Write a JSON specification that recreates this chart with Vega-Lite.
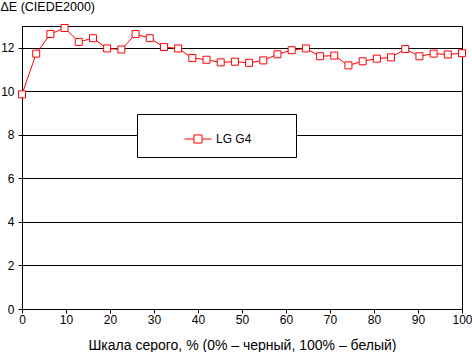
{
  "$schema": "https://vega.github.io/schema/vega-lite/v6.json",
  "width": 440,
  "height": 283,
  "autosize": {"type": "none"},
  "padding": {"left": 22, "top": 26, "right": 10, "bottom": 43},
  "background": "white",
  "config": {
    "font": "Liberation Sans",
    "view": {"stroke": "black", "strokeWidth": 1},
    "axis": {
      "labelFont": "Liberation Sans",
      "labelFontSize": 12,
      "labelColor": "black",
      "titleFont": "Liberation Sans",
      "titleFontSize": 12,
      "titleFontWeight": "normal",
      "titleColor": "black",
      "domainColor": "black",
      "tickColor": "black",
      "tickSize": 4,
      "gridColor": "black",
      "gridOpacity": 1
    },
    "legend": {
      "labelFont": "Liberation Sans",
      "labelFontSize": 12,
      "labelColor": "black"
    }
  },
  "data": {
    "values": [
      {"x": 0, "y": 9.86, "series": "LG G4"},
      {"x": 3.23, "y": 11.73, "series": "LG G4"},
      {"x": 6.45, "y": 12.63, "series": "LG G4"},
      {"x": 9.68, "y": 12.91, "series": "LG G4"},
      {"x": 12.9, "y": 12.27, "series": "LG G4"},
      {"x": 16.13, "y": 12.44, "series": "LG G4"},
      {"x": 19.35, "y": 11.97, "series": "LG G4"},
      {"x": 22.58, "y": 11.92, "series": "LG G4"},
      {"x": 25.81, "y": 12.63, "series": "LG G4"},
      {"x": 29.03, "y": 12.44, "series": "LG G4"},
      {"x": 32.26, "y": 12.03, "series": "LG G4"},
      {"x": 35.48, "y": 11.97, "series": "LG G4"},
      {"x": 38.71, "y": 11.53, "series": "LG G4"},
      {"x": 41.94, "y": 11.45, "series": "LG G4"},
      {"x": 45.16, "y": 11.33, "series": "LG G4"},
      {"x": 48.39, "y": 11.36, "series": "LG G4"},
      {"x": 51.61, "y": 11.31, "series": "LG G4"},
      {"x": 54.84, "y": 11.42, "series": "LG G4"},
      {"x": 58.06, "y": 11.7, "series": "LG G4"},
      {"x": 61.29, "y": 11.89, "series": "LG G4"},
      {"x": 64.52, "y": 11.97, "series": "LG G4"},
      {"x": 67.74, "y": 11.61, "series": "LG G4"},
      {"x": 70.97, "y": 11.64, "series": "LG G4"},
      {"x": 74.19, "y": 11.19, "series": "LG G4"},
      {"x": 77.42, "y": 11.38, "series": "LG G4"},
      {"x": 80.65, "y": 11.5, "series": "LG G4"},
      {"x": 83.87, "y": 11.56, "series": "LG G4"},
      {"x": 87.1, "y": 11.94, "series": "LG G4"},
      {"x": 90.32, "y": 11.61, "series": "LG G4"},
      {"x": 93.55, "y": 11.73, "series": "LG G4"},
      {"x": 96.77, "y": 11.69, "series": "LG G4"},
      {"x": 100, "y": 11.75, "series": "LG G4"}
    ]
  },
  "encoding": {
    "x": {
      "field": "x",
      "type": "quantitative",
      "scale": {"domain": [0, 100], "nice": false, "zero": false},
      "axis": {
        "values": [0, 10, 20, 30, 40, 50, 60, 70, 80, 90, 100],
        "grid": false,
        "labelFlush": false,
        "labelPadding": 1,
        "title": "Шкала серого, % (0% – черный, 100% – белый)",
        "titleFontSize": 14,
        "titleBaseline": "alphabetic",
        "titleY": 40
      }
    },
    "y": {
      "field": "y",
      "type": "quantitative",
      "scale": {"domain": [0, 13], "nice": false},
      "axis": {
        "values": [0, 2, 4, 6, 8, 10, 12],
        "grid": true,
        "labelPadding": 4,
        "title": "ΔE (CIEDE2000)",
        "titleFontSize": 12.5,
        "titleAngle": 0,
        "titleAlign": "left",
        "titleBaseline": "alphabetic",
        "titleX": -22,
        "titleY": -16
      }
    }
  },
  "layer": [
    {
      "mark": {"type": "line", "strokeWidth": 1},
      "encoding": {
        "stroke": {
          "field": "series",
          "type": "nominal",
          "scale": {"range": ["#ff0000"]},
          "legend": {
            "title": null,
            "orient": "none",
            "legendX": 115,
            "legendY": 88,
            "padding": 11,
            "strokeColor": "black",
            "fillColor": "white",
            "symbolType": "M-1,0H-0.3M0.3,0H1M-0.3,-0.3H0.3V0.3H-0.3Z",
            "symbolSize": 729,
            "symbolStrokeWidth": 1,
            "symbolFillColor": "white",
            "symbolOffset": 36,
            "labelOffset": 4,
            "labelExpr": "datum.label + '\u00a0\u00a0\u00a0\u00a0\u00a0\u00a0\u00a0\u00a0\u00a0\u00a0\u200b'"
          }
        }
      }
    },
    {
      "mark": {
        "type": "point",
        "shape": "square",
        "filled": true,
        "fill": "white",
        "stroke": "#ff0000",
        "strokeWidth": 1,
        "size": 49,
        "opacity": 1
      }
    }
  ]
}
